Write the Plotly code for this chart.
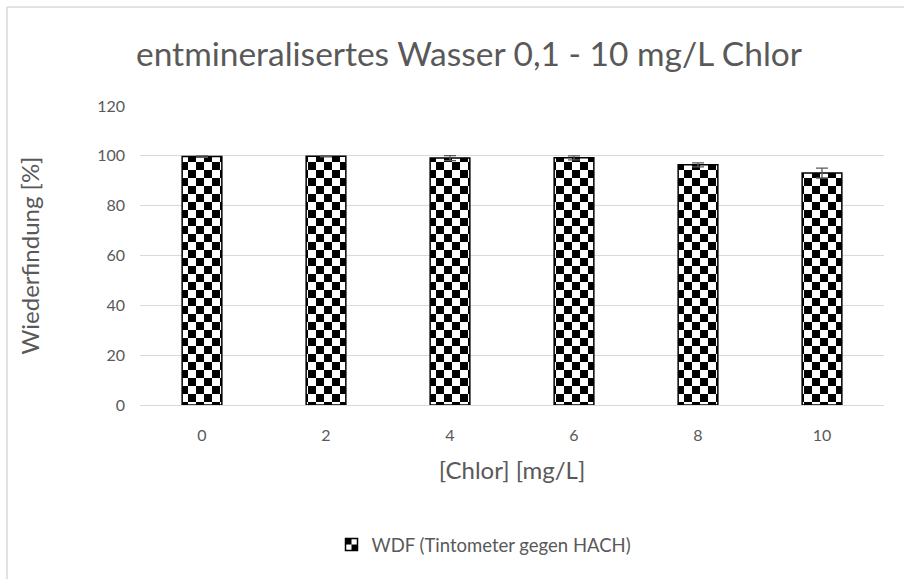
import plotly.graph_objects as go

# Wiederfindung je Chlorkonzentration (entmineralisertes Wasser)
chlor = ["0", "2", "4", "6", "8", "10"]
wiederfindung = [99.7, 99.8, 99.1, 99.2, 96.4, 93.1]
fehler = [0.3, 0.2, 1.0, 0.8, 0.8, 2.0]
y_ticks = [0, 20, 40, 60, 80, 100, 120]

W, H = 904, 579
ML, MR, MT, MB = 140, 20, 106, 174
GREY = "#595959"
FONT = "Lato, Open Sans, sans-serif"

fig = go.Figure()
fig.add_trace(go.Bar(
    x=chlor,
    y=wiederfindung,
    name="WDF (Tintometer gegen HACH)",
    marker=dict(color="white", line=dict(color="black", width=1.5)),
    error_y=dict(type="data", array=fehler, visible=True, color=GREY, thickness=1.3, width=6),
))

pw = W - ML - MR
ph = H - MT - MB
# Rahmen links und oben (Diagramm ist rechts/unten abgeschnitten)
bx = (7 - ML) / pw
by = 1 + (MT - 7) / ph
fig.add_shape(type="line", xref="paper", yref="paper", x0=bx, x1=bx, y0=by, y1=-(MB + 5) / ph,
              line=dict(color="#d9d9d9", width=1.5))
fig.add_shape(type="line", xref="paper", yref="paper", x0=bx, x1=1 + (MR + 5) / pw, y0=by, y1=by,
              line=dict(color="#d9d9d9", width=1.5))

fig.update_layout(
    width=W, height=H,
    margin=dict(l=ML, r=MR, t=MT, b=MB),
    paper_bgcolor="white",
    plot_bgcolor="white",
    font=dict(family=FONT, color=GREY, size=16),
    bargap=0.68,
    title=dict(text="entmineralisertes Wasser 0,1 - 10 mg/L Chlor", x=469 / W, xanchor="center",
               y=1 - 54 / H, yanchor="middle", font=dict(size=33.5, color=GREY)),
    xaxis=dict(
        title=dict(text="[Chlor] [mg/L]", standoff=18, font=dict(size=24)),
        showgrid=False, showline=True, linecolor="#d9d9d9", linewidth=1,
        ticks="", ticklabelstandoff=16,
    ),
    yaxis=dict(
        title=dict(text="Wiederfindung [%]", standoff=50, font=dict(size=24)),
        range=[0, 120], tickvals=y_ticks,
        showgrid=True, gridcolor="#d9d9d9", gridwidth=1,
        zeroline=False, showline=False, ticks="", ticklabelstandoff=14,
    ),
    showlegend=True,
    legend=dict(orientation="h", x=(484 - ML) / pw, xanchor="center",
                y=-(545 - (H - MB)) / ph, yanchor="middle", font=dict(size=18.5),
                itemwidth=30),
)

# Schachbrettmuster wie im Original (Plotly hat kein eingebautes Schachbrett)
post = """
document.body.style.margin = '0';
var gd = document.getElementsByClassName('plotly-graph-div')[0];
function checker() {
  var svg = gd.querySelector('svg.main-svg');
  var ns = 'http://www.w3.org/2000/svg';
  var defs = svg.querySelector('defs');
  if (!document.getElementById('checker')) {
    var p = document.createElementNS(ns, 'pattern');
    p.setAttribute('id', 'checker');
    p.setAttribute('patternUnits', 'userSpaceOnUse');
    p.setAttribute('width', '16'); p.setAttribute('height', '16');
    var bg = document.createElementNS(ns, 'rect');
    bg.setAttribute('width', '16'); bg.setAttribute('height', '16'); bg.setAttribute('fill', 'white');
    p.appendChild(bg);
    [[0, 0], [8, 8]].forEach(function (o) {
      var r = document.createElementNS(ns, 'rect');
      r.setAttribute('x', o[0]); r.setAttribute('y', o[1]);
      r.setAttribute('width', '8'); r.setAttribute('height', '8'); r.setAttribute('fill', 'black');
      p.appendChild(r);
    });
    defs.appendChild(p);
  }
  gd.querySelectorAll('.bars .point path, .legendpoints path').forEach(function (el) {
    el.style.fill = 'url(#checker)';
  });
}
checker();
gd.on('plotly_afterplot', checker);
"""

fig.write_html("out.html", post_script=post, config={"displayModeBar": False})
